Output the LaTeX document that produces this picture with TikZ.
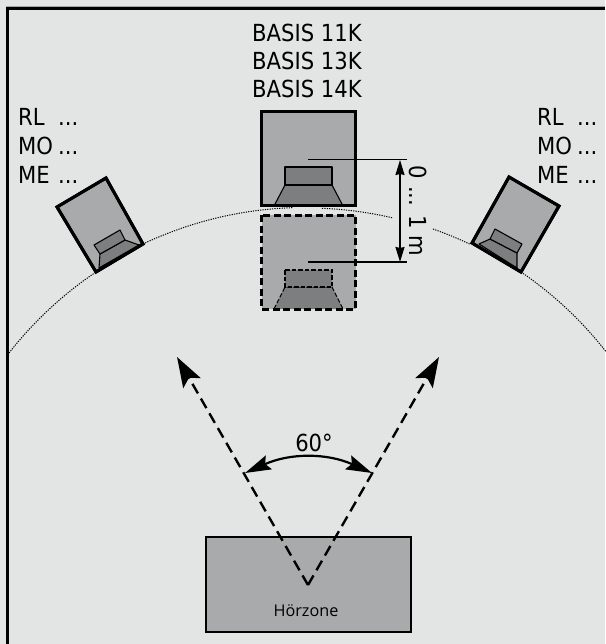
\documentclass[tikz,border=0pt]{standalone}
\usepackage{fontspec}
\setmainfont{DejaVu Sans Condensed}
\newfontfamily\smallfont{Open Sans}
\usetikzlibrary{arrows.meta}
\definecolor{bgc}{HTML}{E3E5E4}
\definecolor{boxc}{HTML}{A9AAAC}
\definecolor{innerc}{HTML}{7D7E80}
\tikzset{
 x=1pt,y=-1pt,
 cab/.style={draw=black,line width=3pt,fill=boxc,line join=miter},
 cabdash/.style={draw=black,line width=3pt,fill=boxc,dash pattern=on 7pt off 3.5pt},
 drv/.style={draw=black,line width=1.1pt,fill=innerc,line join=round},
 drvdash/.style={draw=black,line width=1.1pt,fill=innerc,dash pattern=on 4.5pt off 2pt},
 circ/.style={draw=black,line width=1pt,dash pattern=on 1.2pt off 1.2pt},
 ray/.style={draw=black,line width=2.4pt,dash pattern=on 11pt off 6pt,-{Stealth[length=30pt,width=20pt,inset=6pt]}},
 lab/.style={inner sep=0pt,font=\fontsize{23.5}{23.5}\selectfont,anchor=base west},
 cen/.style={inner sep=0pt,font=\fontsize{23.5}{23.5}\selectfont,anchor=base},
}
\begin{document}
\begin{tikzpicture}
\useasboundingbox (0,0) rectangle (605,644);
\fill[bgc] (0,0) rectangle (605,644);
\fill[black!35] (6,6) rectangle (605,7);
\draw[line width=3pt] (7.5,644) -- (7.5,8.5) -- (605,8.5);
% listening circle
\draw[circ] (9,353) arc[start angle=218,end angle=236.6,radius=378];
\draw[circ] (143,244) arc[start angle=244.6,end angle=268.2,radius=378];
\draw[circ] (322,208.3) arc[start angle=272.3,end angle=283.2,radius=378];
\draw[circ] (433,229) arc[start angle=289.3,end angle=295.3,radius=378];
\draw[circ] (521,272) arc[start angle=304.3,end angle=322,radius=378];
% centre cabinet
\draw[cab] (261.5,112) rectangle (355.5,206);
\draw[drv] (274,206) -- (285,185) -- (332,185) -- (343,206) -- cycle;
\draw[drv] (285,167) rectangle (332,185);
\draw[cab,fill=none] (261.5,112) rectangle (355.5,206);
% shifted cabinet
\draw[cabdash] (261.5,215) rectangle (355.5,309);
\draw[drvdash] (274,309) -- (285,287) -- (332,287) -- (343,309);
\draw[drvdash] (285,270) rectangle (332,287);
\draw[cabdash,fill=none] (261.5,215) rectangle (355.5,309);
% dimension
\coordinate (t1) at (308,159.5); \coordinate (t2) at (407,159.5);
\coordinate (b1) at (308,262); \coordinate (b2) at (407,262);
\coordinate (d1) at (400,160); \coordinate (d2) at (400,262);
\draw[line width=1.3pt] (t1) -- (t2);
\draw[line width=1.3pt] (b1) -- (b2);
\draw[line width=1.4pt,{Stealth[length=15pt,width=9pt,inset=1pt]}-{Stealth[length=15pt,width=9pt,inset=1pt]}] (d1) -- (d2);
\node[inner sep=0pt,rotate=-90,font=\fontsize{23.5}{23.5}\selectfont] (dim) at (418,211) {0 ... 1 m};
% left cabinet
\draw[cab] (57,207) -- (106,178) -- (143,244) -- (96,272) -- cycle;
\draw[drv] (100,254) -- (125,240) -- (139,245) -- (99,268) -- cycle;
\draw[drv] (94,245) -- (120,230) -- (125,240) -- (100,254) -- cycle;
\draw[cab,fill=none] (57,207) -- (106,178) -- (143,244) -- (96,272) -- cycle;
% right cabinet
\draw[cab] (509,177) -- (559,206) -- (521,272) -- (472,243) -- cycle;
\draw[drv] (490,239) -- (517,253) -- (517,268) -- (479,244) -- cycle;
\draw[drv] (495,229) -- (522,244) -- (517,253) -- (490,239) -- cycle;
\draw[cab,fill=none] (509,177) -- (559,206) -- (521,272) -- (472,243) -- cycle;
% listening zone
\node[draw=black,line width=2.4pt,fill=boxc,minimum width=205pt,minimum height=95pt,anchor=north west,inner sep=0pt,outer sep=0pt] (zone) at (206,537) {};
\node[inner sep=0pt,font=\smallfont\fontsize{16.2}{17}\selectfont] (zl) at (306,611) {Hörzone};
% rays
\coordinate (apex) at (308,585);
\coordinate (rl) at (177,357);
\coordinate (rr) at (439,357);
\coordinate (al) at (245,473);
\coordinate (ar) at (372,473);
\draw[ray] (apex) -- (rl);
\draw[ray] (apex) -- (rr);
\draw[line width=2.2pt,{Stealth[length=26pt,width=15pt,inset=4pt]}-{Stealth[length=26pt,width=15pt,inset=4pt]}] (al) to[bend left=24] (ar);
\node[cen] (ang) at (314,451) {60°};
% texts
\node[cen] (b11) at (307,42) {BASIS 11K};
\node[cen] (b13) at (307,70) {BASIS 13K};
\node[cen] (b14) at (307,98) {BASIS 14K};
\node[lab] (l1) at (18,126) {RL}; \node[lab] (l1d) at (58,126) {...};
\node[lab] (l2) at (18,155) {MO}; \node[lab] (l2d) at (58,155) {...};
\node[lab] (l3) at (18,184) {ME}; \node[lab] (l3d) at (58,184) {...};
\node[lab] (r1) at (537,126) {RL}; \node[lab] (r1d) at (577,126) {...};
\node[lab] (r2) at (537,155) {MO}; \node[lab] (r2d) at (577,155) {...};
\node[lab] (r3) at (537,184) {ME}; \node[lab] (r3d) at (577,184) {...};
\end{tikzpicture}
\end{document}
